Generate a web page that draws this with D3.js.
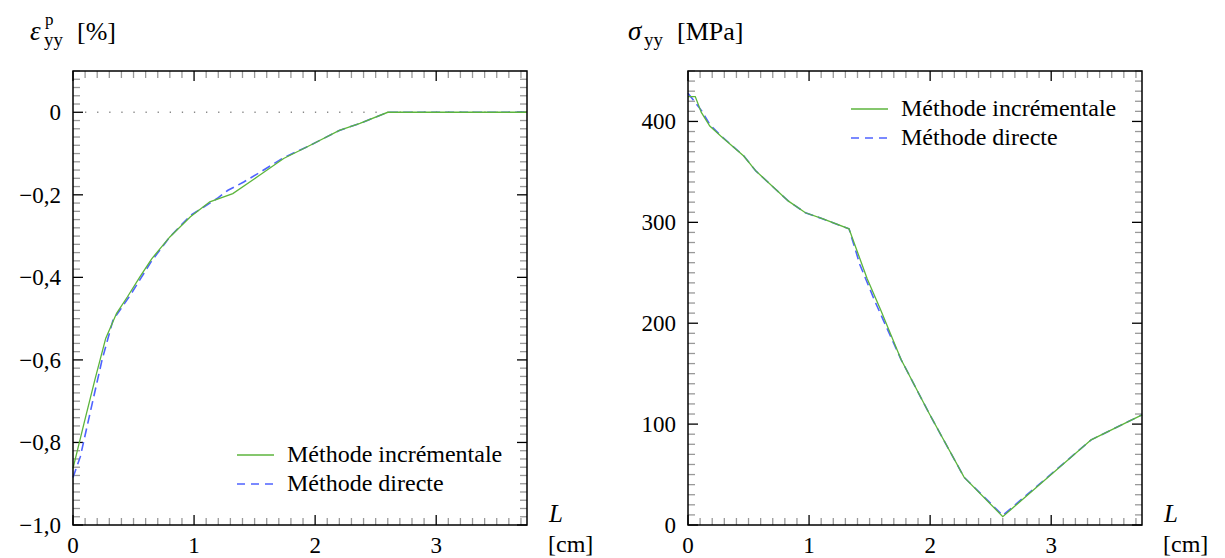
<!DOCTYPE html>
<html>
<head>
<meta charset="utf-8">
<script src="https://cdn.jsdelivr.net/npm/d3@7"></script>
<style>
  html, body { margin: 0; padding: 0; background: #fff; }
  svg text { font-family: 'Liberation Serif', 'Times New Roman', Times, serif; }
</style>
</head>
<body>
<svg id="chart" width="1225" height="558"></svg>
<script>
// ---------- data ----------
const legendLabels = ["Méthode incrémentale", "Méthode directe"];
const xTickValues = [0, 1, 2, 3];

// Left panel: plastic strain eps_yy^p [%]
const epsIncL = [0, 0.09, 0.18, 0.27, 0.36, 0.45, 0.55, 0.65, 0.80, 0.97, 1.13, 1.32, 1.52, 1.74, 1.96, 2.20, 2.37, 2.60, 3.75];
const epsIncV = [-0.863, -0.755, -0.649, -0.548, -0.487, -0.447, -0.400, -0.355, -0.302, -0.253, -0.217, -0.197, -0.157, -0.112, -0.080, -0.044, -0.027, 0, 0];
const epsDirL = [0, 0.06, 0.14, 0.24, 0.33, 0.48, 0.65, 0.80, 0.97, 1.19, 1.28, 1.41, 1.53, 1.74, 1.96, 2.20, 2.37, 2.60, 3.75];
const epsDirV = [-0.885, -0.835, -0.730, -0.600, -0.504, -0.440, -0.360, -0.302, -0.250, -0.209, -0.189, -0.169, -0.148, -0.110, -0.080, -0.044, -0.027, 0, 0];
const epsYTicks = [-1.0, -0.8, -0.6, -0.4, -0.2, 0];

// Right panel: stress sigma_yy [MPa]
const sigIncL = [0, 0.06, 0.11, 0.18, 0.27, 0.46, 0.56, 0.71, 0.83, 0.97, 1.11, 1.33, 1.48, 1.59, 1.76, 1.99, 2.28, 2.60, 3.33, 3.75];
const sigIncV = [424.7, 424.7, 409, 395.5, 385.6, 365.7, 351, 334.3, 321, 309.5, 303.6, 293.6, 244, 213.5, 164, 111, 47.4, 8.3, 84.4, 109.2];
const sigDirL = [0, 0.11, 0.18, 0.27, 0.46, 0.56, 0.71, 0.83, 0.97, 1.11, 1.33, 1.42, 1.55, 1.76, 1.99, 2.28, 2.60, 3.33, 3.75];
const sigDirV = [428, 411, 397, 386, 366, 351, 334.3, 321, 309.5, 303.6, 293.6, 258, 220, 164, 111, 47.4, 9.5, 84.4, 109.2];
const sigYTicks = [0, 100, 200, 300, 400];

// ---------- styling ----------
const FONT = "'Liberation Serif', 'Times New Roman', Times, serif";
const GREEN = "#5cb53c";
const BLUE = "#4f63ff";
const svg = d3.select("#chart").attr("font-family", FONT);
const loc = d3.formatLocale({decimal: ",", thousands: " ", grouping: [3], currency: ["", ""], minus: "\u2212"});
const f1 = loc.format(".1f");

function txt(sel) { return sel.append("text").attr("font-family", FONT); }

function panel(opt) {
  const x = d3.scaleLinear().domain([0, 3.75]).range([opt.left, opt.left + 454]);
  const y = d3.scaleLinear().domain(opt.yDomain).range([525, 71]);
  const g = svg.append("g");
  const [x0, x1] = x.range();
  const [y0, y1] = [y.range()[1], y.range()[0]]; // top, bottom

  if (opt.zeroLine) {
    g.append("line").attr("x1", x0 + 12).attr("x2", x1).attr("y1", y(0)).attr("y2", y(0))
      .attr("stroke", "#888").attr("stroke-width", 1.3).attr("stroke-dasharray", "1.3,10.8");
  }

  const xMinor = d3.range(0, 3.7501, 0.1).filter(v => Math.abs(v - Math.round(v)) > 1e-6);
  const yMinor = d3.range(opt.yDomain[0], opt.yDomain[1] + 1e-9, opt.yMinorStep)
      .filter(v => !opt.yTicks.some(t => Math.abs(t - v) < 1e-9));
  const minorLen = 7, majorLen = 10;
  const tickG = g.append("g");
  const tk = (xa, xb, ya, yb, c) => tickG.append("line").attr("x1", xa).attr("x2", xb).attr("y1", ya).attr("y2", yb)
      .attr("stroke", c).attr("stroke-width", 1.3);
  xMinor.forEach(v => { tk(x(v), x(v), y1, y1 - minorLen, "#999"); tk(x(v), x(v), y0, y0 + minorLen, "#999"); });
  yMinor.forEach(v => { tk(x0, x0 + minorLen, y(v), y(v), "#999"); tk(x1, x1 - minorLen, y(v), y(v), "#999"); });
  xTickValues.forEach(v => { tk(x(v), x(v), y1, y1 - majorLen, "#000"); tk(x(v), x(v), y0, y0 + majorLen, "#000"); });
  opt.yTicks.forEach(v => { tk(x0, x0 + majorLen, y(v), y(v), "#000"); tk(x1, x1 - majorLen, y(v), y(v), "#000"); });

  const line = d3.line().x(d => x(d[0])).y(d => y(d[1]));
  g.append("path").datum(opt.dirL.map((v, i) => [v, opt.dirV[i]]))
    .attr("d", line).attr("fill", "none").attr("stroke", BLUE).attr("stroke-width", 1.6).attr("stroke-dasharray", "9,5");
  g.append("path").datum(opt.incL.map((v, i) => [v, opt.incV[i]]))
    .attr("d", line).attr("fill", "none").attr("stroke", GREEN).attr("stroke-width", 1.3);

  g.append("rect").attr("x", x0).attr("y", y0).attr("width", x1 - x0).attr("height", y1 - y0)
    .attr("fill", "none").attr("stroke", "#000").attr("stroke-width", 1.5);

  xTickValues.forEach(d => txt(g).attr("x", x(d)).attr("y", 553).attr("text-anchor", "middle")
    .attr("font-size", 23).text(d));
  opt.yTicks.forEach(d => txt(g).attr("x", x0 - 12).attr("y", y(d) + 8).attr("text-anchor", "end")
    .attr("font-size", 23).text(opt.yFmt(d)));

  txt(g).attr("x", x1 + 22).attr("y", 522).attr("font-size", 25).attr("font-style", "italic").text("L");
  txt(g).attr("x", x1 + 21).attr("y", 552).attr("font-size", 24).text("[cm]");

  legendLabels.forEach((lab, i) => {
    const ly = opt.legY + i * 29;
    g.append("line").attr("x1", opt.legX).attr("x2", opt.legX + 37).attr("y1", ly).attr("y2", ly)
      .attr("stroke", i === 0 ? GREEN : BLUE).attr("stroke-width", i === 0 ? 1.3 : 1.6)
      .attr("stroke-dasharray", i === 0 ? null : "8,6");
    txt(g).attr("x", opt.legX + 50).attr("y", ly + 7).attr("font-size", 24).text(lab);
  });
}

panel({
  left: 73, yDomain: [-1.0, 0.1], yTicks: epsYTicks, yMinorStep: 0.02,
  yFmt: d => d === 0 ? "0" : f1(d), zeroLine: true,
  incL: epsIncL, incV: epsIncV, dirL: epsDirL, dirV: epsDirV,
  legX: 237, legY: 455
});
panel({
  left: 688, yDomain: [0, 450], yTicks: sigYTicks, yMinorStep: 10,
  yFmt: d => String(d), zeroLine: false,
  incL: sigIncL, incV: sigIncV, dirL: sigDirL, dirV: sigDirV,
  legX: 851, legY: 109
});

// y-axis titles
txt(svg).attr("x", 30).attr("y", 40).attr("font-size", 27).attr("font-style", "italic").text("ε");
txt(svg).attr("x", 45).attr("y", 25).attr("font-size", 17).text("p");
txt(svg).attr("x", 44).attr("y", 46).attr("font-size", 19).text("yy");
txt(svg).attr("x", 77).attr("y", 40).attr("font-size", 26).text("[%]");

txt(svg).attr("x", 628).attr("y", 40).attr("font-size", 27).attr("font-style", "italic").text("σ");
txt(svg).attr("x", 644).attr("y", 46).attr("font-size", 19).text("yy");
txt(svg).attr("x", 677).attr("y", 40).attr("font-size", 26).text("[MPa]");
</script>
</body>
</html>
